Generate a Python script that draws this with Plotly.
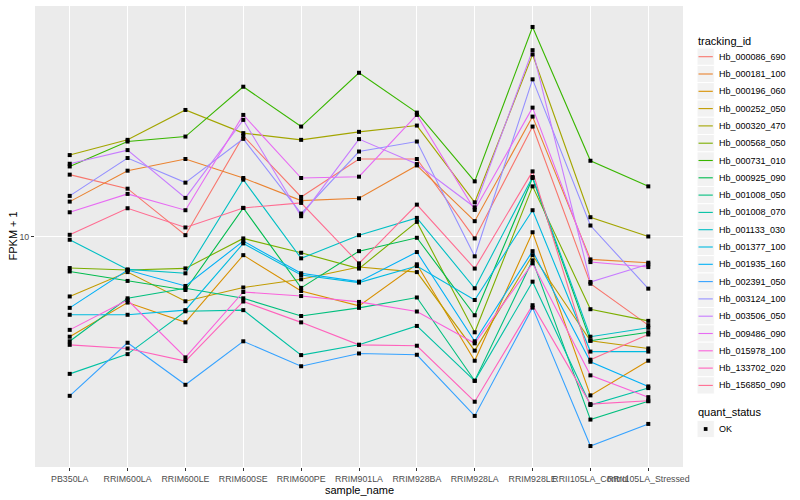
import plotly.graph_objects as go
import numpy as np

samples = ["PB350LA", "RRIM600LA", "RRIM600LE", "RRIM600SE", "RRIM600PE", "RRIM901LA",
           "RRIM928BA", "RRIM928LA", "RRIM928LE", "RRII105LA_Control", "RRII105LA_Stressed"]

tracking_ids = ["Hb_000086_690", "Hb_000181_100", "Hb_000196_060", "Hb_000252_050",
                "Hb_000320_470", "Hb_000568_050", "Hb_000731_010", "Hb_000925_090",
                "Hb_001008_050", "Hb_001008_070", "Hb_001133_030", "Hb_001377_100",
                "Hb_001935_160", "Hb_002391_050", "Hb_003124_100", "Hb_003506_050",
                "Hb_009486_090", "Hb_015978_100", "Hb_133702_020", "Hb_156850_090"]

colors = ["#F8766D", "#EA8331", "#D89000", "#C09B00", "#A3A500", "#7CAE00", "#39B600",
          "#00BB4E", "#00BF7D", "#00C1A3", "#00BFC4", "#00BAE0", "#00B0F6", "#35A2FF",
          "#9590FF", "#C77CFF", "#E76BF3", "#FA62DB", "#FF62BC", "#FF6C91"]

# FPKM + 1 per sample (same order as samples)
hb_000086_690 = [16.1, 14.45, 10.1, 21.7, 13.56, 18.16, 18.16, 9.85, 23.32, 6.95, 5.05]
hb_000181_100 = [13.08, 16.6, 18.16, 15.69, 13.18, 13.42, 17.29, 11.25, 25.18, 8.38, 8.17]
hb_000196_060 = [4.62, 6.01, 5.16, 8.66, 6.57, 5.86, 8.07, 3.84, 10.33, 2.94, 3.84]
hb_000252_050 = [6.30, 7.60, 6.07, 6.75, 7.19, 7.90, 7.60, 4.15, 8.66, 4.48, 4.22]
hb_000320_470 = [18.72, 21.05, 26.5, 22.17, 21.05, 22.39, 23.5, 13.01, 40.64, 11.6, 10.0]
hb_000568_050 = [7.84, 7.72, 7.82, 9.85, 8.82, 7.81, 11.19, 4.78, 14.71, 5.71, 5.22]
hb_000731_010 = [17.15, 20.78, 21.59, 31.70, 23.32, 35.29, 25.96, 15.29, 50.23, 17.92, 14.71]
hb_000925_090 = [7.64, 7.10, 6.62, 12.46, 6.73, 8.93, 9.90, 5.45, 15.69, 4.48, 4.78]
hb_001008_050 = [4.46, 6.21, 6.71, 6.21, 5.42, 5.77, 6.25, 3.29, 8.32, 2.44, 2.81]
hb_001008_070 = [3.47, 4.04, 5.62, 5.67, 4.01, 4.34, 5.02, 3.29, 7.06, 2.73, 3.11]
hb_001133_030 = [9.75, 7.76, 7.53, 15.49, 8.45, 10.1, 11.54, 6.71, 15.81, 4.62, 4.95]
hb_001377_100 = [5.47, 5.47, 5.67, 9.48, 7.43, 7.01, 7.96, 6.13, 12.24, 4.12, 4.12]
hb_001935_160 = [5.77, 7.72, 6.83, 9.65, 7.53, 7.06, 8.87, 4.46, 8.93, 3.81, 3.15]
hb_002391_050 = [2.93, 4.41, 3.19, 4.46, 3.68, 4.06, 4.02, 2.51, 5.78, 1.99, 2.36]
hb_003124_100 = [13.67, 18.3, 15.14, 21.21, 11.93, 19.24, 20.78, 8.58, 33.55, 10.88, 6.69]
hb_003506_050 = [17.51, 19.45, 13.46, 24.55, 11.69, 21.17, 17.47, 12.52, 42.0, 7.04, 8.07]
hb_009486_090 = [12.05, 13.88, 12.24, 25.51, 15.69, 15.85, 25.51, 12.27, 26.98, 8.21, 7.90]
hb_015978_100 = [4.87, 6.13, 3.94, 6.52, 6.32, 6.04, 5.61, 4.39, 8.13, 3.43, 2.90]
hb_133702_020 = [4.34, 4.22, 3.83, 6.06, 5.16, 4.34, 4.31, 2.80, 5.89, 2.75, 2.82]
hb_156850_090 = [10.13, 12.43, 10.72, 12.46, 12.95, 8.13, 12.78, 7.81, 16.51, 3.87, 4.70]

series = [hb_000086_690, hb_000181_100, hb_000196_060, hb_000252_050, hb_000320_470,
          hb_000568_050, hb_000731_010, hb_000925_090, hb_001008_050, hb_001008_070,
          hb_001133_030, hb_001377_100, hb_001935_160, hb_002391_050, hb_003124_100,
          hb_003506_050, hb_009486_090, hb_015978_100, hb_133702_020, hb_156850_090]

quant_status = ["OK"]

W, H = 800, 500
L, R, T, B = 35, 117, 6, 33
PW, PH = W - L - R, H - T - B


def px(x):
    return (x - L) / PW


def py(y):
    return 1 - (y - T) / PH


fig = go.Figure()

for name, col, vals in zip(tracking_ids, colors, series):
    fig.add_trace(go.Scatter(x=samples, y=vals, mode="lines", name=name,
                             line=dict(color=col, width=1.1), showlegend=False,
                             hoverinfo="skip"))

all_x = [s for vals in series for s in samples]
all_y = [v for vals in series for v in vals]
fig.add_trace(go.Scatter(x=all_x, y=all_y, mode="markers", showlegend=False,
                         marker=dict(symbol="square", size=4, color="black",
                                     line=dict(width=0))))

logs = np.log10(all_y)
lo, hi = logs.min(), logs.max()
pad = (hi - lo) * 0.05

fig.update_layout(
    width=W, height=H,
    margin=dict(l=L, r=R, t=T, b=B),
    paper_bgcolor="white", plot_bgcolor="#EBEBEB",
    font=dict(family="Liberation Sans, Arial, sans-serif", size=11, color="black"),
    xaxis=dict(type="category", categoryorder="array", categoryarray=samples,
               range=[-0.6, len(samples) - 0.4], showgrid=True, gridcolor="white",
               gridwidth=1.1, zeroline=False, showline=False, ticks="outside",
               ticklen=3, tickcolor="#333333", tickwidth=1, tickangle=0,
               automargin=False, tickfont=dict(size=8.8, color="#4D4D4D")),
    yaxis=dict(type="log", range=[lo - pad, hi + pad], tickvals=[10], ticktext=["10"],
               showgrid=True, gridcolor="white", gridwidth=1.1, zeroline=False,
               showline=False, ticks="outside", ticklen=3, tickcolor="#333333",
               automargin=False, tickwidth=1, tickfont=dict(size=8.8, color="#4D4D4D")),
)

annotations = [
    dict(text="sample_name", x=0.5, y=py(490), xref="paper", yref="paper",
         showarrow=False, font=dict(size=11), xanchor="center", yanchor="middle"),
    dict(text="FPKM + 1", x=px(12), y=0.5, xref="paper", yref="paper", textangle=-90,
         showarrow=False, font=dict(size=11), xanchor="center", yanchor="middle"),
    dict(text="tracking_id", x=px(696), y=py(40.5), xref="paper", yref="paper",
         showarrow=False, font=dict(size=11), xanchor="left", yanchor="middle"),
    dict(text="quant_status", x=px(696), y=py(412.3), xref="paper", yref="paper",
         showarrow=False, font=dict(size=11), xanchor="left", yanchor="middle"),
]
shapes = []
key_h = 17.3
for i, (name, col) in enumerate(zip(tracking_ids, colors)):
    yc = 56.7 + i * key_h
    shapes.append(dict(type="rect", xref="paper", yref="paper", x0=px(697), x1=px(714.3),
                       y0=py(yc - key_h / 2), y1=py(yc + key_h / 2),
                       fillcolor="#F2F2F2", line=dict(color="white", width=1), layer="above"))
    shapes.append(dict(type="line", xref="paper", yref="paper", x0=px(698.5), x1=px(712.8),
                       y0=py(yc), y1=py(yc), line=dict(color=col, width=1.1), layer="above"))
    annotations.append(dict(text=name, x=px(716.5), y=py(yc), xref="paper", yref="paper",
                            showarrow=False, font=dict(size=9), xanchor="left",
                            yanchor="middle"))

for j, st in enumerate(quant_status):
    yc = 429 + j * key_h
    shapes.append(dict(type="rect", xref="paper", yref="paper", x0=px(697), x1=px(714.3),
                       y0=py(yc - key_h / 2), y1=py(yc + key_h / 2),
                       fillcolor="#F2F2F2", line=dict(color="white", width=1), layer="above"))
    shapes.append(dict(type="rect", xref="paper", yref="paper", x0=px(703.8), x1=px(707.5),
                       y0=py(yc - 1.9), y1=py(yc + 1.9), fillcolor="black",
                       line=dict(width=0), layer="above"))
    annotations.append(dict(text=st, x=px(716.5), y=py(yc), xref="paper", yref="paper",
                            showarrow=False, font=dict(size=9), xanchor="left",
                            yanchor="middle"))

fig.update_layout(annotations=annotations, shapes=shapes)
fig.write_html("out.html", config={"displayModeBar": False},
               post_script="document.body.style.margin='0';document.body.style.padding='0';")
